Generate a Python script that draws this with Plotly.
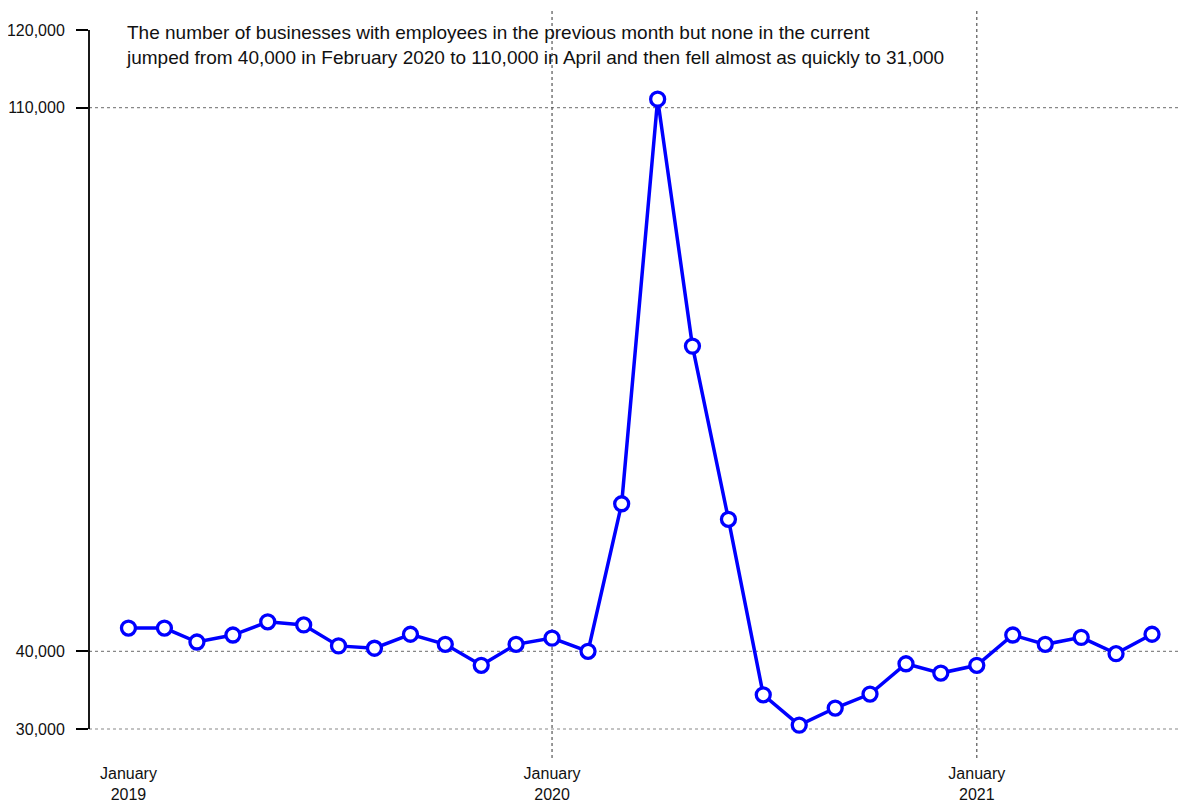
import plotly.graph_objects as go
import pandas as pd

months = pd.date_range("2019-01-01", periods=30, freq="MS")
values = [
    43000, 43000, 41200, 42100, 43800, 43400, 40700, 40400, 42200, 40900, 38200, 40900,
    41700, 40000, 59000, 111100, 79300, 57000, 34400, 30500, 32700, 34500, 38400, 37200,
    38200, 42100, 40900, 41800, 39700, 42200,
]
x_tick_vals = ["2019-01-01", "2020-01-01", "2021-01-01"]
x_tick_text = ["January<br>2019", "January<br>2020", "January<br>2021"]
y_tick_vals = [30000, 40000, 110000, 120000]
y_tick_text = ["30,000", "40,000", "110,000", "120,000"]
h_grid = [30000, 40000, 110000]
v_grid = ["2020-01-01", "2021-01-01"]
note = ("The number of businesses with employees in the previous month but none in the current<br>"
        "jumped from 40,000 in February 2020 to 110,000 in April and then fell almost as quickly to 31,000")

FONT = "Liberation Sans, Arial, Helvetica, sans-serif"

fig = go.Figure()
fig.add_trace(go.Scatter(
    x=months, y=values, mode="lines+markers",
    line=dict(color="#0000ff", width=3.5),
    marker=dict(size=14, color="white", line=dict(color="#0000ff", width=3.3)),
    hoverinfo="x+y", showlegend=False,
))

shapes = []
for v in h_grid:
    shapes.append(dict(type="line", xref="paper", yref="y", x0=0, x1=1, y0=v, y1=v,
                       line=dict(color="#888888", width=1.2, dash="dot"), layer="below"))
for d in v_grid:
    shapes.append(dict(type="line", xref="x", yref="paper", x0=d, x1=d, y0=0, y1=1,
                       line=dict(color="#555555", width=1.2, dash="dot"), layer="below"))
shapes.append(dict(type="line", xref="paper", yref="y", x0=0, x1=0, y0=30000, y1=120000,
                   line=dict(color="black", width=1.8)))

fig.update_layout(
    width=1180, height=795,
    margin=dict(l=81, r=0, t=0, b=45),
    paper_bgcolor="white", plot_bgcolor="white",
    font=dict(family=FONT, size=16, color="#111111"),
    shapes=shapes,
    xaxis=dict(
        type="date", range=["2018-11-28", "2021-07-02"],
        tickvals=x_tick_vals, ticktext=x_tick_text,
        showgrid=False, zeroline=False, showline=False, ticks="",
        ticklabelstandoff=4, automargin=False,
        tickfont=dict(size=16, family=FONT),
    ),
    yaxis=dict(
        range=[26266, 122833],
        tickvals=y_tick_vals, ticktext=y_tick_text,
        showgrid=False, zeroline=False, showline=False,
        ticks="outside", ticklen=12, tickwidth=1.8, tickcolor="black",
        ticklabelstandoff=8, automargin=False,
        tickfont=dict(size=16, family=FONT),
    ),
    annotations=[dict(
        xref="x", yref="paper", x="2019-01-01", y=1, yshift=-12, xshift=-4,
        xanchor="left", yanchor="top", align="left", showarrow=False,
        text=note, font=dict(size=19, family=FONT, color="#111111"),
    )],
)

fig.write_html("out.html")
